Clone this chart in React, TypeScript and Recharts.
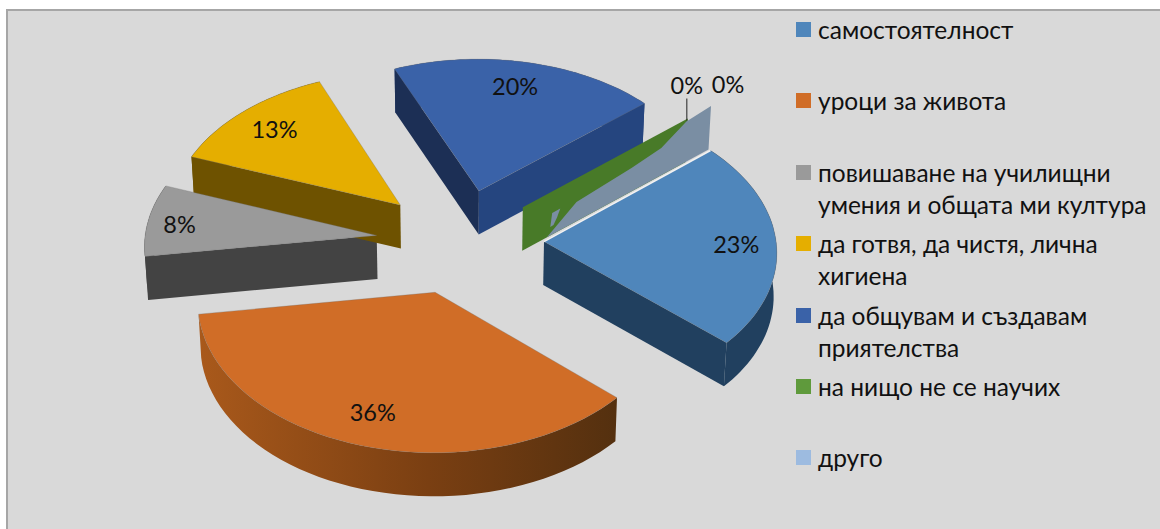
import { Legend, Pie, PieChart } from 'recharts';

const CATEGORIES = [
  'самостоятелност',
  'уроци за живота',
  'повишаване на училищни умения и общата ми култура',
  'да готвя, да чистя, лична хигиена',
  'да общувам и създавам приятелства',
  'на нищо не се научих',
  'друго',
];
const VALUES = [23, 36, 8, 13, 20, 0, 0];

const TOP_COLORS = ['#4f86bb', '#d06d27', '#9a9a9a', '#e5ae00', '#3a62a8', '#5f9a3c', '#9dbbe0'];
const ARC_WALLS = ['#21405f', 'url(#orangeWall)', '#434343', '#6e5200', '#24427a', '#487a28', '#7a8ea3'];
const START_WALLS = ['#21405f', '#6f3a10', '#434343', '#6e5200', '#1c2f55', '#487a28', '#7a8ea3'];
const END_WALLS = ['#21405f', '#6f3a10', '#434343', '#6e5200', '#25457f', '#487a28', '#7a8ea3'];

const FONT = 'Lato, "Open Sans", sans-serif';
const CX = 460;
const CY = 241;
const RADIUS = 232;
const TILT = 0.625;
const PERSPECTIVE = 0.00025;
const DEPTH = 43.5;
const EXPLODE = 84;
const EXPLODE_LAST = 118;
const LABEL_RADIUS = 190;
const START_ANGLE = 40.7;
const RAD = Math.PI / 180;

// where the two zero slices fight for the same plane: [along the wall, share of height]
const OTHER_WALL_PROFILE = [[0, 0], [0.18, 0.45], [0.52, 0.55], [0.7, 0.64], [0.85, 0.95], [1, 1]];
const OTHER_WALL_SPECK = [[0.02, 0.2], [0.03, 0.5], [0.08, 0.5], [0.06, 0.33], [0.04, 0.2]];
const ZERO_LABEL_SHIFT: Record<number, number[]> = { 5: [-1, -34], 6: [17, -22] };
const LABEL_NUDGE = [[2, 1], [-2, -4], [-10, 1], [3, 1], [-4, 1]];

const data = CATEGORIES.map((name, i) => ({ name, value: VALUES[i], fill: TOP_COLORS[i] }));

type Pt = number[];

function project(x: number, y: number): Pt {
  const s = 1 / (1 + PERSPECTIVE * y);
  return [CX + x * s, CY - TILT * y * s];
}

function below(p: Pt): Pt {
  return [CX + (p[0] - CX) * 0.99, p[1] + DEPTH];
}

function slicePoint(index: number, midAngle: number, angle: number, r: number): Pt {
  const e = index === 6 ? EXPLODE_LAST : EXPLODE;
  return project(
    e * Math.cos(midAngle * RAD) + r * Math.cos(angle * RAD),
    e * Math.sin(midAngle * RAD) + r * Math.sin(angle * RAD),
  );
}

function toPath(pts: Pt[]) {
  return 'M' + pts.map((p) => `${p[0].toFixed(1)},${p[1].toFixed(1)}`).join('L') + 'Z';
}

function arcPoints(index: number, mid: number, start: number, end: number) {
  const pts: Pt[] = [];
  for (let i = 0; i <= 48; i++) {
    pts.push(slicePoint(index, mid, start + ((end - start) * i) / 48, RADIUS));
  }
  return pts;
}

// true when a wall hanging from a→b faces the viewer, inner is a point inside the slice
function facesViewer(a: Pt, b: Pt, inner: Pt) {
  const nx = b[1] - a[1];
  const ny = a[0] - b[0];
  const side = nx * (inner[0] - a[0]) + ny * (inner[1] - a[1]);
  return (side > 0 ? -ny : ny) > 0;
}

function WallShape(props: any) {
  const { index, startAngle, endAngle, midAngle } = props;
  const apex = slicePoint(index, midAngle, 0, 0);
  if (startAngle === endAngle) {
    const outer = slicePoint(index, midAngle, startAngle, RADIUS);
    const quad = [apex, outer, below(outer), below(apex)];
    if (index !== 6) return <path d={toPath(quad)} fill={START_WALLS[index]} />;
    const bottomA = below(apex);
    const bottomB = below(outer);
    const onWall = ([t, h]: number[]) => {
      const top = [apex[0] + (outer[0] - apex[0]) * t, apex[1] + (outer[1] - apex[1]) * t];
      const bot = [bottomA[0] + (bottomB[0] - bottomA[0]) * t, bottomA[1] + (bottomB[1] - bottomA[1]) * t];
      return [bot[0] + (top[0] - bot[0]) * h, bot[1] + (top[1] - bot[1]) * h];
    };
    return (
      <g fill={START_WALLS[index]}>
        <path d={toPath([...OTHER_WALL_PROFILE.map(onWall), bottomB])} />
        <path d={toPath(OTHER_WALL_SPECK.map(onWall))} />
      </g>
    );
  }
  const arc = arcPoints(index, midAngle, startAngle, endAngle);
  const first = arc[0];
  const last = arc[arc.length - 1];
  const inner = slicePoint(index, midAngle, midAngle, RADIUS / 2);
  return (
    <g>
      <path d={toPath([...arc, ...arc.map(below).reverse()])} fill={ARC_WALLS[index]} />
      {facesViewer(apex, first, inner) && (
        <path d={toPath([apex, first, below(first), below(apex)])} fill={START_WALLS[index]} />
      )}
      {facesViewer(apex, last, inner) && (
        <path d={toPath([apex, last, below(last), below(apex)])} fill={END_WALLS[index]} />
      )}
    </g>
  );
}

function TopShape(props: any) {
  const { index, startAngle, endAngle, midAngle, fill } = props;
  if (startAngle === endAngle) return <g />;
  const apex = slicePoint(index, midAngle, 0, 0);
  const arc = arcPoints(index, midAngle, startAngle, endAngle);
  return (
    <g>
      <path d={toPath([apex, ...arc])} fill={fill} stroke="#6f6f6f" strokeOpacity={0.5} strokeWidth={0.6} />
      {index === 0 && (
        <line x1={apex[0]} y1={apex[1]} x2={arc[0][0]} y2={arc[0][1]} stroke="#f2f2f2" strokeWidth={1.6} />
      )}
    </g>
  );
}

function SliceLabel(props: any) {
  const { index, midAngle, value } = props;
  let [x, y] = slicePoint(index, midAngle, midAngle, LABEL_RADIUS);
  const shift = ZERO_LABEL_SHIFT[index];
  let leader = null;
  if (shift) {
    const outer = slicePoint(index, midAngle, midAngle, RADIUS);
    x = outer[0] + shift[0];
    y = outer[1] + shift[1];
    if (index === 5) {
      leader = <line x1={x} y1={y + 14} x2={x} y2={outer[1] + 2} stroke="#222" strokeWidth={1} />;
    }
  } else {
    x += LABEL_NUDGE[index][0];
    y += LABEL_NUDGE[index][1];
  }
  return (
    <g>
      {leader}
      <text x={x} y={y} textAnchor="middle" dominantBaseline="central" fontFamily={FONT} fontSize={23.5} fill="#111">
        {`${value}%`}
      </text>
    </g>
  );
}

function LegendRows({ payload }: any) {
  const rows = (payload || []).filter((entry: any) => entry.type !== 'none');
  return (
    <div style={{ fontFamily: FONT, fontSize: 24.5, lineHeight: '32px', color: '#111' }}>
      {rows.map((entry: any) => (
        <div key={entry.value} style={{ height: 71.4, display: 'flex' }}>
          <span
            style={{ width: 15, height: 15, marginTop: 8, marginRight: 7, flex: 'none', background: entry.payload?.fill ?? entry.color }}
          />
          <span style={{ width: 340 }}>{entry.value}</span>
        </div>
      ))}
    </div>
  );
}

export default function App() {
  return (
    <div style={{ position: 'absolute', left: 0, top: 0, width: 1160, height: 529, background: '#fff' }}>
      <div style={{ position: 'absolute', left: 6, top: 9, width: 1154, height: 520, background: '#d9d9d9', borderTop: '2px solid #a6a6a6', borderLeft: '2px solid #a6a6a6', boxSizing: 'border-box' }} />
      <PieChart width={1160} height={529} margin={{ top: 0, right: 0, bottom: 0, left: 0 }} style={{ position: 'absolute', left: 0, top: 0 }}>
        <defs>
          <linearGradient id="orangeWall" x1="0" y1="0" x2="1" y2="0">
            <stop offset="0%" stopColor="#a9591b" />
            <stop offset="55%" stopColor="#7a3f12" />
            <stop offset="100%" stopColor="#54300f" />
          </linearGradient>
        </defs>
        <Pie
          data={data}
          dataKey="value"
          nameKey="name"
          cx={CX}
          cy={CY}
          outerRadius={RADIUS}
          startAngle={START_ANGLE}
          endAngle={START_ANGLE - 360}
          stroke="none"
          legendType="square"
          shape={WallShape}
          isAnimationActive={false}
        />
        <Pie
          data={data}
          dataKey="value"
          nameKey="name"
          cx={CX}
          cy={CY}
          outerRadius={RADIUS}
          startAngle={START_ANGLE}
          endAngle={START_ANGLE - 360}
          stroke="none"
          legendType="none"
          shape={TopShape}
          label={SliceLabel}
          labelLine={false}
          isAnimationActive={false}
        />
        <Legend
          layout="vertical"
          align="right"
          verticalAlign="top"
          content={LegendRows}
          itemSorter={null}
          wrapperStyle={{ left: 796, top: 14, width: 362 }}
        />
      </PieChart>
    </div>
  );
}
